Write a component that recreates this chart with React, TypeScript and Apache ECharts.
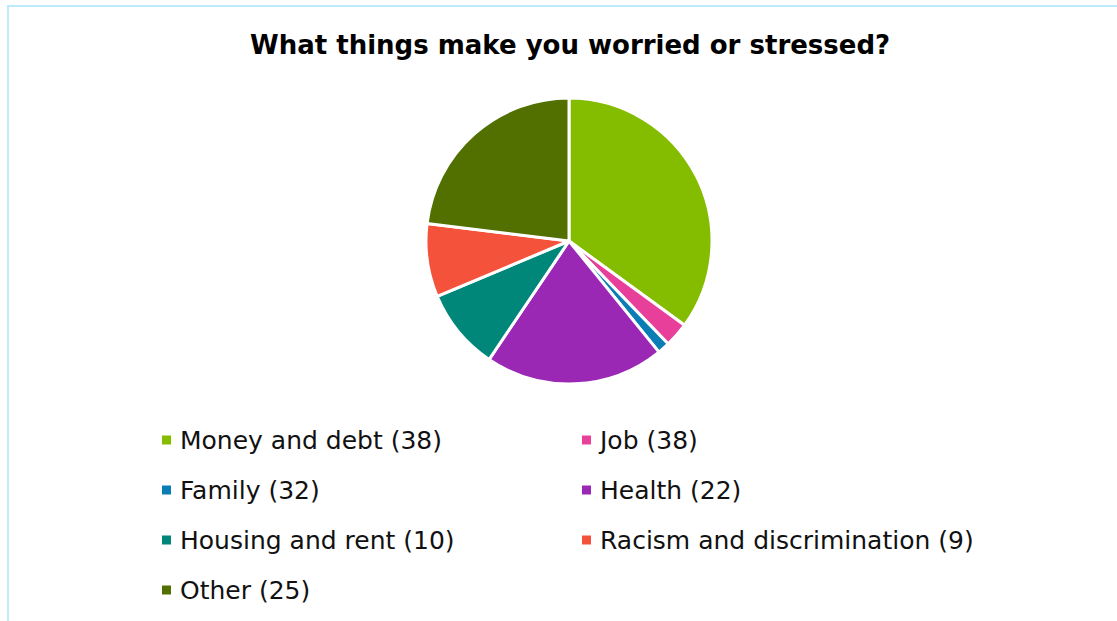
import React, { useEffect, useRef } from "react";
import * as echarts from "echarts";

const categories = [
  "Money and debt",
  "Job",
  "Family",
  "Health",
  "Housing and rent",
  "Racism and discrimination",
  "Other",
];
const sliceValues = [38, 3, 1.5, 22, 10, 9, 25];
const legendCounts = [38, 38, 32, 22, 10, 9, 25];
const colors = ["#84bd00", "#e8409a", "#0b7db5", "#9b27b5", "#00877a", "#f4523b", "#517000"];
const leftColumn = ["Money and debt", "Family", "Housing and rent", "Other"];
const rightColumn = ["Job", "Health", "Racism and discrimination"];
const titleText = "What things make you worried or stressed?";

const FONT = "DejaVu Sans";

export default function App() {
  const ref = useRef<HTMLDivElement>(null);
  useEffect(() => {
    if (!ref.current) return;
    const chart = echarts.init(ref.current, undefined, { renderer: "svg" });
    const legendBase = {
      orient: "vertical" as const,
      icon: "rect",
      itemWidth: 11,
      itemHeight: 11,
      itemGap: 24,
      selectedMode: false,
      padding: 0,
      formatter: (name: string) => `${name} (${legendCounts[categories.indexOf(name)]})`,
      textStyle: {
        fontFamily: FONT,
        fontSize: 25,
        color: "#111",
        lineHeight: 26,
        padding: [0, 0, 0, 3],
      },
    };
    chart.setOption({
      animation: false,
      color: colors,
      title: {
        text: titleText,
        left: 250,
        top: 32,
        padding: 0,
        textStyle: { fontFamily: FONT, fontSize: 26, fontWeight: "bold", color: "#000" },
      },
      graphic: [
        {
          type: "rect",
          shape: { x: 8, y: 6, width: 1200, height: 700 },
          style: { fill: "none", stroke: "#bfeafb", lineWidth: 2 },
          silent: true,
        },
      ],
      legend: [
        { ...legendBase, data: leftColumn, left: 160, top: 427 },
        { ...legendBase, data: rightColumn, left: 580, top: 427 },
      ],
      series: [
        {
          type: "pie",
          center: [569, 241],
          radius: 143,
          startAngle: 90,
          clockwise: true,
          label: { show: false },
          labelLine: { show: false },
          itemStyle: { borderColor: "#fff", borderWidth: 3 },
          data: categories.map((name, i) => ({ name, value: sliceValues[i] })),
        },
      ],
    });
    return () => chart.dispose();
  }, []);
  return (
    <div
      ref={ref}
      style={{ position: "absolute", left: 0, top: 0, width: 1117, height: 621, background: "#fff" }}
    />
  );
}
